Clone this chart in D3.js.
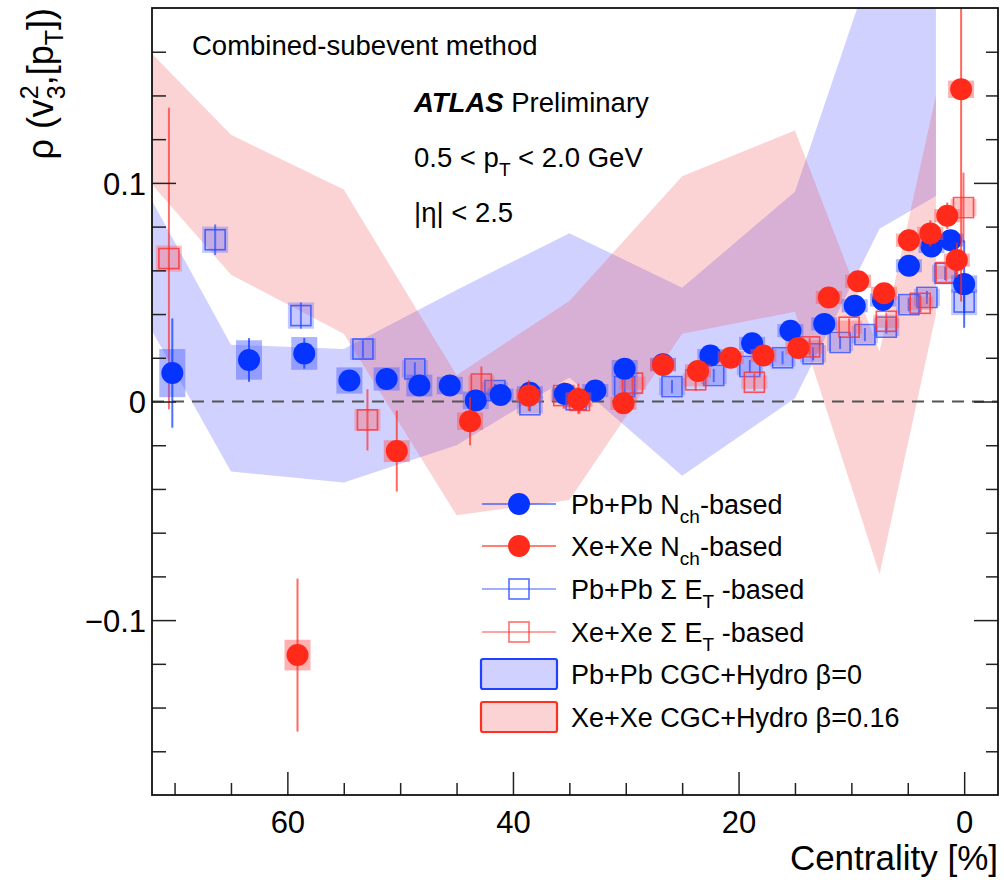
<!DOCTYPE html>
<html>
<head>
<meta charset="utf-8">
<script src="https://cdn.jsdelivr.net/npm/d3@7"></script>
<style>
  body { margin: 0; background: #fff; }
  svg { display: block; }
  text { font-family: "Liberation Sans", Arial, Helvetica, sans-serif; fill: #000; }
</style>
</head>
<body>
<svg id="chart" width="1004" height="880"></svg>
<script>
// ---- Measured rho(v3^2,[pT]) vs centrality: value, statistical and systematic errors ----
const pbNchCent = [70.2, 63.4, 58.5, 54.5, 51.2, 48.3, 45.6, 43.3, 41.1, 38.5, 35.4, 32.7, 30.1, 26.7, 22.5, 18.8, 15.4, 12.4, 9.7, 7.2, 4.9, 2.9, 1.2, 0.0];
const pbNchVal  = [0.013, 0.019, 0.022, 0.0096, 0.0103, 0.0073, 0.0073, 0.0005, 0.003, 0.004, 0.0035, 0.005, 0.015, 0.017, 0.021, 0.0266, 0.0324, 0.0355, 0.0438, 0.0464, 0.0621, 0.0709, 0.0738, 0.0537];
const pbNchStat = [0.025, 0.010, 0.007, 0.004, 0.004, 0.003, 0.003, 0.003, 0.003, 0.003, 0.003, 0.002, 0.002, 0.002, 0.002, 0.002, 0.002, 0.002, 0.002, 0.002, 0.002, 0.003, 0.003, 0.020];
const pbNchSys  = [0.011, 0.009, 0.0075, 0.006, 0.0053, 0.005, 0.004, 0.004, 0.003, 0.003, 0.003, 0.003, 0.004, 0.003, 0.003, 0.003, 0.003, 0.003, 0.003, 0.003, 0.003, 0.003, 0.003, 0.004];

const xeNchCent = [59.1, 50.3, 43.8, 38.6, 34.2, 30.2, 26.7, 23.6, 20.7, 17.8, 14.7, 12.0, 9.4, 7.1, 4.9, 3.0, 1.5, 0.65, 0.27];
const xeNchVal  = [-0.116, -0.0227, -0.009, 0.0027, 0.0012, -0.0008, 0.0167, 0.014, 0.020, 0.021, 0.0245, 0.0476, 0.055, 0.0495, 0.0738, 0.0769, 0.085, 0.0647, 0.1428];
const xeNchStat = [0.035, 0.0185, 0.011, 0.007, 0.007, 0.004, 0.004, 0.004, 0.003, 0.003, 0.003, 0.004, 0.004, 0.004, 0.005, 0.006, 0.006, 0.008, 0.097];
const xeNchSys  = [0.007, 0.005, 0.004, 0.003, 0.003, 0.003, 0.003, 0.003, 0.003, 0.003, 0.003, 0.003, 0.003, 0.003, 0.003, 0.003, 0.003, 0.003, 0.004];

const pbEtCent = [66.4, 58.8, 53.3, 48.7, 41.6, 38.5, 34.4, 30.1, 25.9, 22.2, 19.0, 16.1, 13.4, 11.0, 8.8, 6.9, 4.9, 3.3, 1.7, 0.0];
const pbEtVal  = [0.074, 0.0393, 0.024, 0.0149, 0.005, -0.0015, 0.0008, 0.0068, 0.0068, 0.0119, 0.016, 0.020, 0.0218, 0.027, 0.0306, 0.034, 0.0443, 0.0476, 0.0586, 0.0455];
const pbEtStat = [0.007, 0.006, 0.004, 0.003, 0.003, 0.003, 0.003, 0.003, 0.003, 0.003, 0.003, 0.003, 0.003, 0.003, 0.003, 0.003, 0.003, 0.003, 0.003, 0.005];
const pbEtSys  = [0.006, 0.006, 0.005, 0.004, 0.004, 0.004, 0.004, 0.004, 0.004, 0.004, 0.004, 0.004, 0.004, 0.004, 0.004, 0.004, 0.004, 0.004, 0.004, 0.006];

const xeEtCent = [70.5, 52.9, 42.8, 35.5, 34.1, 29.4, 23.8, 18.6, 13.7, 10.2, 6.9, 3.9, 1.6, 0.06];
const xeEtVal  = [0.0654, -0.0084, 0.008, 0.0027, 0.0005, 0.0084, 0.0099, 0.0088, 0.025, 0.034, 0.0367, 0.0449, 0.059, 0.0887];
const xeEtStat = [0.069, 0.014, 0.008, 0.006, 0.006, 0.006, 0.005, 0.004, 0.004, 0.004, 0.004, 0.004, 0.004, 0.016];
const xeEtSys  = [0.006, 0.005, 0.004, 0.003, 0.003, 0.003, 0.003, 0.003, 0.003, 0.003, 0.003, 0.003, 0.003, 0.004];

// ---- CGC+Hydro model bands (lower / upper edge at each centrality node) ----
const bandCent   = [75, 65, 55, 45, 35, 25, 15, 7.5, 2.5];
const pbBandLow  = [0.060, -0.032, -0.037, -0.020, 0.011, -0.034, 0.0015, 0.079, 0.094];
const pbBandHigh = [0.120, 0.026, 0.024, 0.051, 0.077, 0.052, 0.096, 0.210, 0.300];
const xeBandLow  = [0.117, 0.058, 0.031, -0.052, -0.045, 0.031, 0.041, -0.079, 0.040];
const xeBandHigh = [0.175, 0.122, 0.097, 0.012, 0.046, 0.103, 0.124, 0.023, 0.140];

// ---- axes ----
const xDomain = [72, -3];
const yDomain = [-0.18, 0.18];
const xMajorTicks = [60, 40, 20, 0];
const xMinorTicks = [70, 65, 55, 50, 45, 35, 30, 25, 15, 10, 5];
const yMajorTicks = [-0.1, 0, 0.1];
const yMinorTicks = [-0.16, -0.14, -0.12, -0.08, -0.06, -0.04, -0.02, 0.02, 0.04, 0.06, 0.08, 0.12, 0.14, 0.16];

const legendLabels = [
  ["Pb+Pb N", "ch", "-based"],
  ["Xe+Xe N", "ch", "-based"],
  ["Pb+Pb \u03A3 E", "T", " -based"],
  ["Xe+Xe  \u03A3 E", "T", " -based"],
  ["Pb+Pb CGC+Hydro \u03B2=0", "", ""],
  ["Xe+Xe CGC+Hydro \u03B2=0.16", "", ""]
];

const L = 152, R = 998, T = 8, B = 795;
const svg = d3.select("#chart");
const x = d3.scaleLinear().domain(xDomain).range([L, R]);
const y = d3.scaleLinear().domain(yDomain).range([B, T]);

const BLUE = "#0533ff", RED = "#ff2a1a";

svg.append("defs").append("clipPath").attr("id", "plotclip")
  .append("rect").attr("x", L).attr("y", T).attr("width", R - L).attr("height", B - T);

const plot = svg.append("g").attr("clip-path", "url(#plotclip)");

// model bands
function band(low, high) {
  const pts = bandCent.map((c, i) => ({ c, lo: low[i], hi: high[i] }));
  return d3.area().x(d => x(d.c)).y0(d => y(d.lo)).y1(d => y(d.hi))(pts);
}
plot.append("path").attr("d", band(pbBandLow, pbBandHigh))
  .attr("fill", "rgb(70,70,255)").attr("fill-opacity", 0.25);
plot.append("path").attr("d", band(xeBandLow, xeBandHigh))
  .attr("fill", "rgb(238,70,80)").attr("fill-opacity", 0.24);

// zero line
plot.append("line").attr("x1", L).attr("x2", R).attr("y1", y(0)).attr("y2", y(0))
  .attr("stroke", "#555").attr("stroke-width", 2).attr("stroke-dasharray", "12,8");

function series(cent, val, stat, sys, color, boxFill, kind) {
  const d = cent.map((c, i) => ({ c, v: val[i], s: stat[i], u: sys[i] }));
  const g = plot.append("g");
  // systematic boxes
  g.selectAll("rect.sys").data(d).join("rect")
    .attr("x", p => x(p.c) - 13).attr("width", 26)
    .attr("y", p => y(p.v + p.u)).attr("height", p => Math.max(2, y(p.v - p.u) - y(p.v + p.u)))
    .attr("fill", boxFill);
  // statistical error bars
  g.selectAll("line.err").data(d).join("line")
    .attr("x1", p => x(p.c)).attr("x2", p => x(p.c))
    .attr("y1", p => y(p.v + p.s)).attr("y2", p => y(p.v - p.s))
    .attr("stroke", color).attr("stroke-width", 2).attr("stroke-opacity", 0.7);
  if (kind === "circle") {
    g.selectAll("circle").data(d).join("circle")
      .attr("cx", p => x(p.c)).attr("cy", p => y(p.v)).attr("r", 11)
      .attr("fill", color);
  } else {
    g.selectAll("rect.m").data(d).join("rect")
      .attr("x", p => x(p.c) - 10).attr("y", p => y(p.v) - 10)
      .attr("width", 20).attr("height", 20)
      .attr("fill", "none").attr("stroke", color).attr("stroke-width", 1.6).attr("stroke-opacity", 0.8);
  }
}
series(pbEtCent, pbEtVal, pbEtStat, pbEtSys, "#2a4dff", "rgba(90,100,255,0.35)", "square");
series(xeEtCent, xeEtVal, xeEtStat, xeEtSys, "#ff3030", "rgba(255,90,90,0.35)", "square");
series(pbNchCent, pbNchVal, pbNchStat, pbNchSys, BLUE, "rgba(70,90,255,0.45)", "circle");
series(xeNchCent, xeNchVal, xeNchStat, xeNchSys, RED, "rgba(255,80,80,0.45)", "circle");

// axes: ticks point into the frame
const fmtY = d => d === 0 ? "0" : d3.format(".1f")(d);
const fmtX = d3.format("d");
const axL = svg.append("g").attr("transform", `translate(${L},0)`)
  .call(d3.axisLeft(y).tickValues(yMajorTicks).tickSizeInner(-24).tickSizeOuter(0).tickPadding(8).tickFormat(fmtY));
svg.append("g").attr("transform", `translate(${L},0)`)
  .call(d3.axisLeft(y).tickValues(yMinorTicks).tickSizeInner(-14).tickSizeOuter(0).tickFormat(""));
svg.append("g").attr("transform", `translate(${R},0)`)
  .call(d3.axisRight(y).tickValues(yMajorTicks).tickSizeInner(-24).tickSizeOuter(0).tickFormat(""));
svg.append("g").attr("transform", `translate(${R},0)`)
  .call(d3.axisRight(y).tickValues(yMinorTicks).tickSizeInner(-12).tickSizeOuter(0).tickFormat(""));
const axB = svg.append("g").attr("transform", `translate(0,${B})`)
  .call(d3.axisBottom(x).tickValues(xMajorTicks).tickSizeInner(-23).tickSizeOuter(0).tickPadding(10).tickFormat(fmtX));
svg.append("g").attr("transform", `translate(0,${B})`)
  .call(d3.axisBottom(x).tickValues(xMinorTicks).tickSizeInner(-12).tickSizeOuter(0).tickFormat(""));
svg.selectAll(".domain").remove();
svg.selectAll(".tick line").attr("stroke", "#222").attr("stroke-width", 1.5);
axL.selectAll("text").attr("font-size", 31).attr("dy", "0.36em").attr("dx", "2");
axB.selectAll("text").attr("font-size", 31).attr("dy", "0.9em");
svg.selectAll(".tick text").attr("font-family", "'Liberation Sans', Arial, sans-serif").attr("fill", "#000");

// frame
svg.append("rect").attr("x", L).attr("y", T).attr("width", R - L).attr("height", B - T)
  .attr("fill", "none").attr("stroke", "#111").attr("stroke-width", 1.8);

// axis titles
svg.append("text").attr("x", R).attr("y", 870).attr("text-anchor", "end")
  .attr("font-size", 35).text("Centrality [%]");

const yt = svg.append("text").attr("transform", "translate(53,8) rotate(-90)")
  .attr("text-anchor", "end").attr("font-size", 36);
yt.append("tspan").text("\u03C1 (v");
yt.append("tspan").attr("font-size", 25).attr("dy", -15).text("2");
yt.append("tspan").attr("font-size", 25).attr("dx", -14).attr("dy", 27).text("3");
yt.append("tspan").attr("dy", -12).text(",[p");
yt.append("tspan").attr("font-size", 25).attr("dy", 10).text("T");
yt.append("tspan").attr("dy", -10).text("])");

// header texts
svg.append("text").attr("x", 192).attr("y", 55).attr("font-size", 27.5).text("Combined-subevent method");
const at = svg.append("text").attr("x", 414).attr("y", 112).attr("font-size", 27.5);
at.append("tspan").attr("font-weight", "bold").attr("font-style", "italic").text("ATLAS");
at.append("tspan").text(" Preliminary");
const pt = svg.append("text").attr("x", 414).attr("y", 167).attr("font-size", 27.5);
pt.append("tspan").text("0.5 < p");
pt.append("tspan").attr("font-size", 19).attr("dy", 9).text("T");
pt.append("tspan").attr("dy", -9).text("  < 2.0 GeV");
svg.append("text").attr("x", 414).attr("y", 222).attr("font-size", 27.5).text("|\u03B7| < 2.5");

// legend
const legY = [504, 546, 589, 632, 674, 717];
const lg = svg.append("g");
const lx0 = 482, lx1 = 556, lxm = 519;
// Pb+Pb Nch
lg.append("line").attr("x1", lx0).attr("x2", lx1).attr("y1", legY[0]).attr("y2", legY[0]).attr("stroke", BLUE).attr("stroke-opacity", 0.7).attr("stroke-width", 1.5);
lg.append("circle").attr("cx", lxm).attr("cy", legY[0]).attr("r", 11).attr("fill", BLUE);
// Xe+Xe Nch
lg.append("line").attr("x1", lx0).attr("x2", lx1).attr("y1", legY[1]).attr("y2", legY[1]).attr("stroke", RED).attr("stroke-opacity", 0.8).attr("stroke-width", 1.5);
lg.append("circle").attr("cx", lxm).attr("cy", legY[1]).attr("r", 11).attr("fill", RED);
// Pb+Pb ET
lg.append("line").attr("x1", lx0).attr("x2", lx1).attr("y1", legY[2]).attr("y2", legY[2]).attr("stroke", "#2a4dff").attr("stroke-opacity", 0.6).attr("stroke-width", 1.5);
lg.append("rect").attr("x", lxm - 10).attr("y", legY[2] - 10).attr("width", 20).attr("height", 20).attr("fill", "none").attr("stroke", "#2a4dff").attr("stroke-opacity", 0.8).attr("stroke-width", 1.6);
// Xe+Xe ET
lg.append("line").attr("x1", lx0).attr("x2", lx1).attr("y1", legY[3]).attr("y2", legY[3]).attr("stroke", "#ff3030").attr("stroke-opacity", 0.6).attr("stroke-width", 1.5);
lg.append("rect").attr("x", lxm - 10).attr("y", legY[3] - 10).attr("width", 20).attr("height", 20).attr("fill", "none").attr("stroke", "#ff3030").attr("stroke-opacity", 0.7).attr("stroke-width", 1.6);
// band boxes
lg.append("rect").attr("x", 481).attr("y", legY[4] - 15).attr("width", 76).attr("height", 30).attr("rx", 2)
  .attr("fill", "rgba(70,70,255,0.25)").attr("stroke", "#2240ff").attr("stroke-width", 2.2);
lg.append("rect").attr("x", 481).attr("y", legY[5] - 15).attr("width", 76).attr("height", 30).attr("rx", 2)
  .attr("fill", "rgba(238,70,80,0.24)").attr("stroke", "#ff3020").attr("stroke-width", 2.2);

legendLabels.forEach((lab, i) => {
  const t = lg.append("text").attr("x", 571).attr("y", legY[i] + 10).attr("font-size", 27);
  t.append("tspan").text(lab[0]);
  if (lab[1]) {
    t.append("tspan").attr("font-size", 19).attr("dy", 9).text(lab[1]);
    t.append("tspan").attr("dy", -9).text(lab[2]);
  }
});
</script>
</body>
</html>
